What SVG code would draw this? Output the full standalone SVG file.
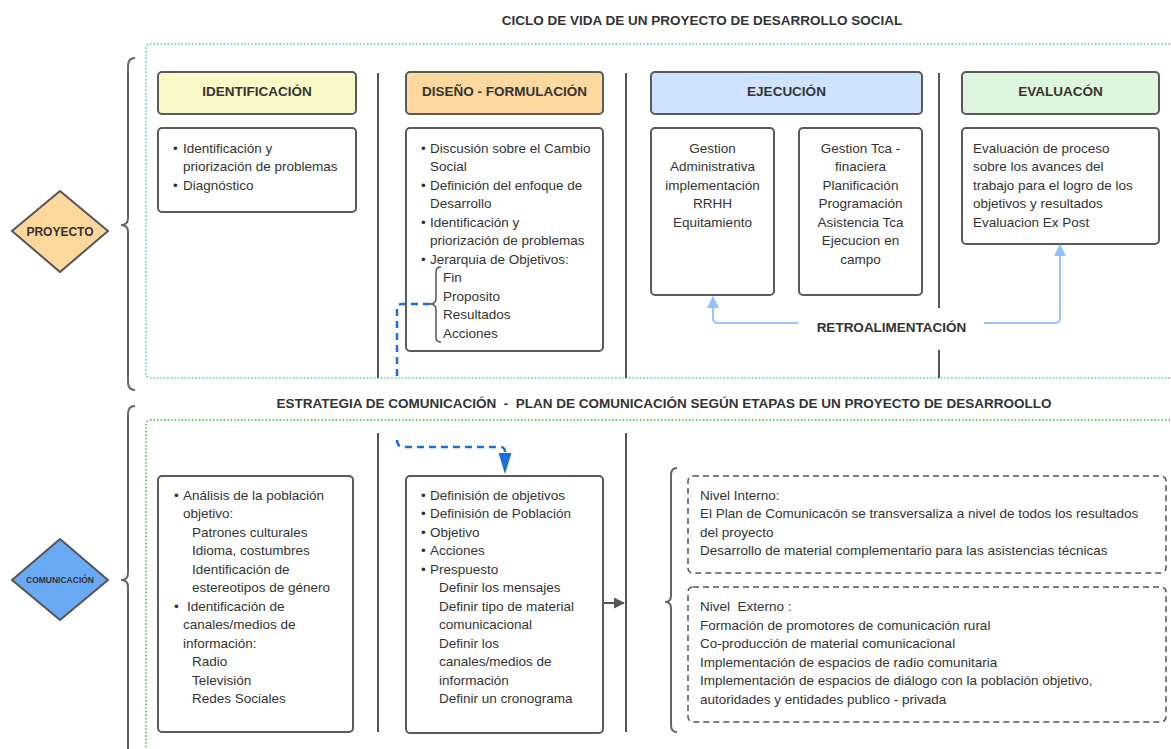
<svg xmlns="http://www.w3.org/2000/svg" width="1171" height="749" viewBox="0 0 1171 749">
<style>
  text { font-family: "Liberation Sans", Arial, sans-serif; fill: #333; }
  .t { font-size: 13.5px; }
  .b { font-size: 13.5px; font-weight: bold; }
  .c { text-anchor: middle; }
  .box { fill: #fff; stroke: #5a5a5a; stroke-width: 2; }
  .sep { stroke: #555; stroke-width: 2; fill: none; }
  .brace { stroke: #666; stroke-width: 2; fill: none; }
  .dash { fill: none; stroke: #555; stroke-width: 1.5; stroke-dasharray: 6 4; }
  .retro { fill: none; stroke: #99c6ff; stroke-width: 2; }
  .blue { fill: none; stroke: #1a6fe0; stroke-width: 2.5; stroke-dasharray: 7 5; }
</style>
<defs>
  <marker id="aRetro" viewBox="0 0 12 12" refX="11" refY="6" markerWidth="12" markerHeight="12" markerUnits="userSpaceOnUse" orient="auto">
    <path d="M0,0 L12,6 L0,12 z" fill="#8fc0ff"/>
  </marker>
  <marker id="aGray" viewBox="0 0 12 12" refX="11" refY="6" markerWidth="11" markerHeight="11" markerUnits="userSpaceOnUse" orient="auto">
    <path d="M0,0 L12,6 L0,12 z" fill="#555"/>
  </marker>
</defs>

<!-- titles -->
<text class="b c" x="702" y="25">CICLO DE VIDA DE UN PROYECTO DE DESARROLLO SOCIAL</text>
<text class="b c" x="664" y="408" xml:space="preserve">ESTRATEGIA DE COMUNICACIÓN  -  PLAN DE COMUNICACIÓN SEGÚN ETAPAS DE UN PROYECTO DE DESARROOLLO</text>

<!-- containers -->
<rect x="146" y="44" width="1040" height="334" rx="4" fill="none" stroke="#45cfc2" stroke-width="1.5" stroke-dasharray="1.5 2"/>
<rect x="146" y="420" width="1040" height="350" rx="4" fill="none" stroke="#3cb93c" stroke-width="1.5" stroke-dasharray="1.5 2"/>

<!-- braces -->
<path class="brace" d="M135,58 Q128,58 128,66 L128,218 Q128,225 121,225 Q128,225 128,232 L128,382 Q128,390 135,390"/>
<path class="brace" d="M135,406 Q128,406 128,414 L128,573 Q128,580 121,580 Q128,580 128,587 L128,760"/>
<path class="brace" d="M677,468 Q671,468 671,475 L671,596 Q671,602 665,602 Q671,602 671,608 L671,725 Q671,732 677,732"/>

<!-- separators -->
<line class="sep" x1="378" y1="73" x2="378" y2="378"/>
<line class="sep" x1="626" y1="73" x2="626" y2="378"/>
<line class="sep" x1="939" y1="73" x2="939" y2="308"/>
<line class="sep" x1="939" y1="350" x2="939" y2="378"/>
<line class="sep" x1="378" y1="433" x2="378" y2="732"/>
<line class="sep" x1="626" y1="433" x2="626" y2="732"/>

<!-- PROYECTO -->
<g id="proyecto">
  <path d="M60,191 L108,231 L60,272 L12,231 Z" fill="#fcd89d" stroke="#555" stroke-width="2" stroke-linejoin="round"/>
  <text class="c" x="60" y="235.5" style="font-size:12px;font-weight:bold">PROYECTO</text>
</g>
<g id="comunicacion">
  <path d="M60,539 L108,580 L60,620 L12,580 Z" fill="#6aa9f4" stroke="#555" stroke-width="2" stroke-linejoin="round"/>
  <text class="c" x="60" y="583" style="font-size:8.5px;font-weight:bold">COMUNICACIÓN</text>
</g>

<!-- headers -->
<g id="identificacion">
  <rect x="158" y="72" width="198" height="42" rx="4" fill="#fcf9c8" stroke="#5a5a5a" stroke-width="2"/>
  <text class="b c" x="257" y="96">IDENTIFICACIÓN</text>
</g>
<g id="diseno">
  <rect x="406" y="72" width="197" height="42" rx="4" fill="#fdd9a0" stroke="#5a5a5a" stroke-width="2"/>
  <text class="b c" x="504.5" y="96">DISEÑO - FORMULACIÓN</text>
</g>
<g id="ejecucion">
  <rect x="651" y="72" width="271" height="42" rx="4" fill="#d0e3fe" stroke="#5a5a5a" stroke-width="2"/>
  <text class="b c" x="786.5" y="96">EJECUCIÓN</text>
</g>
<g id="evaluacion">
  <rect x="962" y="72" width="197" height="42" rx="4" fill="#dff6de" stroke="#5a5a5a" stroke-width="2"/>
  <text class="b c" x="1060.5" y="96">EVALUACÓN</text>
</g>

<!-- top content -->
<g id="id-content">
  <rect class="box" x="158" y="128" width="198" height="84" rx="4"/>
  <text class="t" x="173" y="152.5">•</text><text class="t" x="183" y="152.5">Identificación y</text>
  <text class="t" x="183" y="171">priorización de problemas</text>
  <text class="t" x="173" y="189.5">•</text><text class="t" x="183" y="189.5">Diagnóstico</text>
</g>
<g id="dis-content">
  <rect class="box" x="406" y="128" width="197" height="223" rx="4"/>
  <text class="t" x="421" y="152.5">•</text><text class="t" x="430" y="152.5">Discusión sobre el Cambio</text>
  <text class="t" x="430" y="171">Social</text>
  <text class="t" x="421" y="189.5">•</text><text class="t" x="430" y="189.5">Definición del enfoque de</text>
  <text class="t" x="430" y="208">Desarrollo</text>
  <text class="t" x="421" y="226.5">•</text><text class="t" x="430" y="226.5">Identificación y</text>
  <text class="t" x="430" y="245">priorización de problemas</text>
  <text class="t" x="421" y="263.5">•</text><text class="t" x="430" y="263.5">Jerarquia de Objetivos:</text>
  <path d="M441,267 Q436,267 436,272 L436,298 Q436,304 430,304 Q436,304 436,310 L436,337 Q436,342 441,342" fill="none" stroke="#555" stroke-width="1.5"/>
  <text class="t" x="443" y="282">Fin</text>
  <text class="t" x="443" y="300.5">Proposito</text>
  <text class="t" x="443" y="319">Resultados</text>
  <text class="t" x="443" y="337.5">Acciones</text>
</g>
<g id="gestion-admin">
  <rect class="box" x="651" y="128" width="123" height="167" rx="4"/>
  <text class="t c" x="712.5" y="152.5">Gestion</text>
  <text class="t c" x="712.5" y="171">Administrativa</text>
  <text class="t c" x="712.5" y="189.5">implementación</text>
  <text class="t c" x="712.5" y="208">RRHH</text>
  <text class="t c" x="712.5" y="226.5">Equitamiento</text>
</g>
<g id="gestion-tca">
  <rect class="box" x="799" y="128" width="123" height="167" rx="4"/>
  <text class="t c" x="860.5" y="152.5">Gestion Tca -</text>
  <text class="t c" x="860.5" y="171">finaciera</text>
  <text class="t c" x="860.5" y="189.5">Planificación</text>
  <text class="t c" x="860.5" y="208">Programación</text>
  <text class="t c" x="860.5" y="226.5">Asistencia Tca</text>
  <text class="t c" x="860.5" y="245">Ejecucion en</text>
  <text class="t c" x="860.5" y="263.5">campo</text>
</g>
<g id="eval-content">
  <rect class="box" x="962" y="128" width="197" height="116" rx="4"/>
  <text class="t" x="973" y="152.5">Evaluación de proceso</text>
  <text class="t" x="973" y="171">sobre los avances del</text>
  <text class="t" x="973" y="189.5">trabajo para el logro de los</text>
  <text class="t" x="973" y="208">objetivos y resultados</text>
  <text class="t" x="973" y="226.5">Evaluacion Ex Post</text>
</g>
<g id="retro-label">
  <text class="b c" x="891.5" y="332">RETROALIMENTACIÓN</text>
</g>

<!-- bottom content -->
<g id="analisis">
  <rect class="box" x="158" y="476" width="195" height="256" rx="4"/>
  <text class="t" x="174" y="499.5">•</text><text class="t" x="183" y="499.5">Análisis de la población</text>
  <text class="t" x="183" y="518">objetivo:</text>
  <text class="t" x="192" y="536.5">Patrones culturales</text>
  <text class="t" x="192" y="555">Idioma, costumbres</text>
  <text class="t" x="192" y="573.5">Identificación de</text>
  <text class="t" x="192" y="592">estereotipos de género</text>
  <text class="t" x="174" y="610.5">•</text><text class="t" x="187" y="610.5">Identificación de</text>
  <text class="t" x="183" y="629">canales/medios de</text>
  <text class="t" x="183" y="647.5">información:</text>
  <text class="t" x="192" y="666">Radio</text>
  <text class="t" x="192" y="684.5">Televisión</text>
  <text class="t" x="192" y="703">Redes Sociales</text>
</g>
<g id="plan">
  <rect class="box" x="406" y="476" width="197" height="257" rx="4"/>
  <text class="t" x="421" y="499.5">•</text><text class="t" x="430" y="499.5">Definisión de objetivos</text>
  <text class="t" x="421" y="518">•</text><text class="t" x="430" y="518">Definisión de Población</text>
  <text class="t" x="421" y="536.5">•</text><text class="t" x="430" y="536.5">Objetivo</text>
  <text class="t" x="421" y="555">•</text><text class="t" x="430" y="555">Acciones</text>
  <text class="t" x="421" y="573.5">•</text><text class="t" x="430" y="573.5">Prespuesto</text>
  <text class="t" x="439" y="592">Definir los mensajes</text>
  <text class="t" x="439" y="610.5">Definir tipo de material</text>
  <text class="t" x="439" y="629">comunicacional</text>
  <text class="t" x="439" y="647.5">Definir los</text>
  <text class="t" x="439" y="666">canales/medios de</text>
  <text class="t" x="439" y="684.5">información</text>
  <text class="t" x="439" y="703">Definir un cronograma</text>
</g>
<g id="nivel-interno">
  <rect class="dash" x="688" y="476" width="478" height="97" rx="5"/>
  <text class="t" x="700" y="499.5">Nivel Interno:</text>
  <text class="t" x="700" y="518">El Plan de Comunicacón se transversaliza a nivel de todos los resultados</text>
  <text class="t" x="700" y="536.5">del proyecto</text>
  <text class="t" x="700" y="555">Desarrollo de material complementario para las asistencias técnicas</text>
</g>
<g id="nivel-externo">
  <rect class="dash" x="688" y="587" width="478" height="135" rx="5"/>
  <text class="t" x="700" y="611" xml:space="preserve">Nivel  Externo :</text>
  <text class="t" x="700" y="629.5">Formación de promotores de comunicación rural</text>
  <text class="t" x="700" y="648">Co-producción de material comunicacional</text>
  <text class="t" x="700" y="666.5">Implementación de espacios de radio comunitaria</text>
  <text class="t" x="700" y="685">Implementación de espacios de diálogo con la población objetivo,</text>
  <text class="t" x="700" y="703.5">autoridades y entidades publico - privada</text>
</g>

<!-- connectors -->
<g id="connectors">
  <path class="retro" d="M798,323 L718,323 Q713,323 713,318 L713,297" marker-end="url(#aRetro)"/>
  <path class="retro" d="M984,323 L1055,323 Q1060,323 1060,318 L1060,245" marker-end="url(#aRetro)"/>
  <path class="blue" d="M430,304 L402,304 Q397,304 397,309 L397,378"/>
  <path class="blue" d="M397,440 Q397,447 404,447 L500,447 Q505,447 505,452 L505,455"/>
  <path d="M498.5,453 L511.5,453 L505,474 Z" fill="#1a6fe0"/>
  <line x1="603" y1="603" x2="624" y2="603" stroke="#555" stroke-width="2" marker-end="url(#aGray)"/>
</g>
</svg>
